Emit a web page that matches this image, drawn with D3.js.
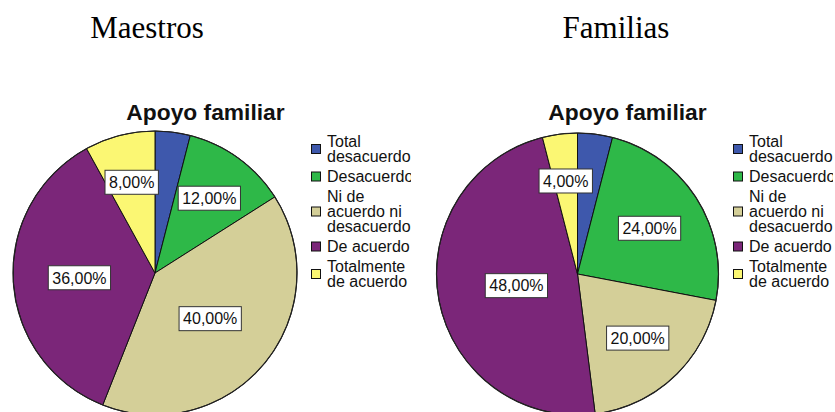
<!DOCTYPE html>
<html>
<head>
<meta charset="utf-8">
<script src="https://cdn.jsdelivr.net/npm/d3@7"></script>
<style>
html,body{margin:0;padding:0;background:#fff;}
svg{display:block;}
</style>
</head>
<body>
<svg id="chart" width="835" height="412"></svg>
<script>
const categories = ["Total desacuerdo","Desacuerdo","Ni de acuerdo ni desacuerdo","De acuerdo","Totalmente de acuerdo"];
const legendLines = [["Total","desacuerdo"],["Desacuerdo"],["Ni de","acuerdo ni","desacuerdo"],["De acuerdo"],["Totalmente","de acuerdo"]];
const maestrosValues = [4,12,40,36,8];
const familiasValues = [4,24,20,48,4];
const labelShown = [false,true,true,true,true];
const sliceColors = ["#3E58AC","#2EB848","#D4CF98","#7B2679","#FBF773"];
const panelTitles = ["Maestros","Familias"];
const chartTitle = "Apoyo familiar";

const panels = [
  {title: panelTitles[0], values: maestrosValues, titleX: 147, cx: 155, cy: 273, r: 142, chartTitleX: 205.5, legendX: 311, clipRight: 411},
  {title: panelTitles[1], values: familiasValues, titleX: 616, cx: 577.5, cy: 274, r: 141, chartTitleX: 627.5, legendX: 733, clipRight: 833}
];

const svg = d3.select("#chart");
const color = d3.scaleOrdinal().domain(categories).range(sliceColors);
const pie = d3.pie().sort(null).value(d => d.value).startAngle(0).endAngle(2*Math.PI);
const fmt = v => d3.format(".2f")(v).replace(".", ",") + "%";

panels.forEach((p, pi) => {
  svg.append("text")
    .attr("x", p.titleX).attr("y", 38)
    .attr("text-anchor", "middle")
    .attr("font-family", "'Liberation Serif','Times New Roman',serif")
    .attr("font-size", 31)
    .attr("fill", "#000")
    .text(p.title);

  svg.append("text")
    .attr("x", p.chartTitleX).attr("y", 120)
    .attr("text-anchor", "middle")
    .attr("font-family", "'Liberation Sans',Arial,sans-serif")
    .attr("font-weight", "bold")
    .attr("font-size", 22.8)
    .attr("fill", "#111")
    .text(chartTitle);

  const data = categories.map((c, i) => ({cat: c, value: p.values[i], idx: i}));
  const arcs = pie(data);
  const arc = d3.arc().innerRadius(0).outerRadius(p.r);

  const g = svg.append("g").attr("transform", `translate(${p.cx},${p.cy})`);
  g.selectAll("path.slice").data(arcs).enter().append("path")
    .attr("class", "slice")
    .attr("d", arc)
    .attr("fill", d => color(d.data.cat))
    .attr("stroke", "#111")
    .attr("stroke-width", 1)
    .attr("stroke-linejoin", "round");

  g.append("circle").attr("r", p.r).attr("fill", "none").attr("stroke", "#222").attr("stroke-width", 1.2);

  arcs.forEach(d => {
    if (!labelShown[d.data.idx] || d.data.value <= 0) return;
    const half = (d.endAngle - d.startAngle) / 2;
    const mid = d.startAngle + half;
    const rc = 2 * p.r * Math.sin(half) / (3 * half);
    const x = rc * Math.sin(mid), y = -rc * Math.cos(mid);
    const lg = g.append("g").attr("transform", `translate(${x},${y})`);
    const rect = lg.append("rect");
    const t = lg.append("text")
      .attr("text-anchor", "middle")
      .attr("dy", "0.36em")
      .attr("font-family", "'Liberation Sans',Arial,sans-serif")
      .attr("font-size", 16)
      .attr("fill", "#111")
      .text(fmt(d.data.value));
    const w = t.node().getComputedTextLength() + 8;
    const h = 24;
    rect.attr("x", -w/2).attr("y", -h/2).attr("width", w).attr("height", h)
      .attr("fill", "#fff").attr("stroke", "#333").attr("stroke-width", 1);
  });

  const clipId = "clip" + pi;
  svg.append("clipPath").attr("id", clipId).append("rect")
    .attr("x", p.legendX - 5).attr("y", 120).attr("width", p.clipRight - p.legendX + 5).attr("height", 200);
  const lgd = svg.append("g").attr("clip-path", `url(#${clipId})`);
  let base = 147;
  legendLines.forEach((lines, i) => {
    const first = base, last = base + (lines.length - 1) * 15;
    const mid = (first - 11 + last) / 2;
    lgd.append("rect")
      .attr("x", p.legendX + 0.5).attr("y", mid - 4.5).attr("width", 9).attr("height", 9)
      .attr("fill", color(categories[i])).attr("stroke", "#111").attr("stroke-width", 1);
    lines.forEach((ln, j) => {
      lgd.append("text")
        .attr("x", p.legendX + 16).attr("y", first + j * 15)
        .attr("font-family", "'Liberation Sans',Arial,sans-serif")
        .attr("font-size", 16)
        .attr("fill", "#111")
        .text(ln);
    });
    base = last + 20;
  });
});
</script>
</body>
</html>
